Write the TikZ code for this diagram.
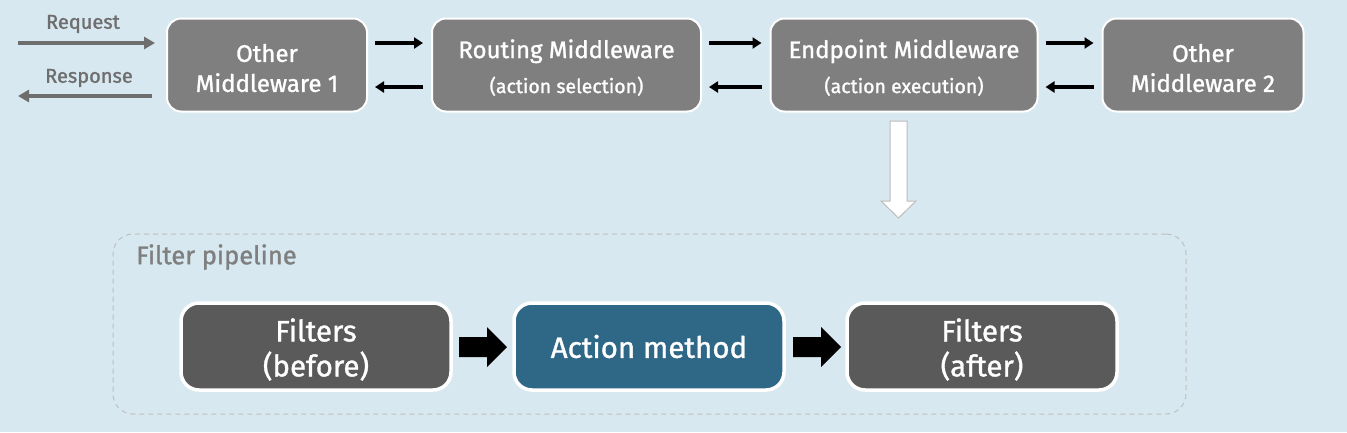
\documentclass[tikz,border=0pt]{standalone}
\usepackage{fontspec}
\setmainfont{Fira Sans}[FakeBold=1.2]
\usetikzlibrary{arrows.meta}
\definecolor{cBg}{HTML}{D7E8F0}
\definecolor{cTop}{HTML}{7F7F7F}
\definecolor{cBot}{HTML}{5A5A5A}
\definecolor{cAct}{HTML}{2F6786}
\definecolor{cTxt}{HTML}{6E6E6E}
\definecolor{cLbl}{HTML}{7F7F7F}
\definecolor{cDash}{HTML}{C0C0C0}
\definecolor{cOut}{HTML}{BDBDBD}
\newcommand{\tstrut}{\rule{0pt}{24pt}}
\newcommand{\bstrut}{\rule{0pt}{29pt}}
\begin{document}
\begin{tikzpicture}[x=1pt,y=-1pt,
  tbox/.style={draw=white, line width=2pt, fill=cTop, rounded corners=14pt,
    minimum height=93pt, text=white, align=center, inner sep=0pt,
    font=\fontsize{24}{30}\selectfont},
  bbox/.style={draw=white, line width=3.5pt, fill=cBot, rounded corners=18pt,
    minimum width=270pt, minimum height=87pt, text=white, align=center, inner sep=0pt,
    font=\fontsize{29.5}{35}\selectfont},
  blk/.style={line width=3.2pt, -{Triangle[length=9pt,width=11pt]}},
  gry/.style={draw=cTxt, line width=3.5pt, -{Triangle[length=11pt,width=12pt]}},
  glbl/.style={text=cTxt, font=\fontsize{20}{22}\selectfont, inner sep=0pt},
  blockarr/.style={fill=black},
  hollow/.style={fill=white, draw=cOut, line width=1pt},
]
\fill[cBg] (0,0) rectangle (1347,432);
\useasboundingbox (0,0) rectangle (1347,432);

% top row
\node[tbox, minimum width=200pt] (b1) at (267,65) {\tstrut Other\\Middleware 1};
\node[tbox, minimum width=269pt] (b2) at (566.5,65) {\tstrut Routing Middleware\\[5pt]{\fontsize{19.5}{22}\selectfont (action selection)}};
\node[tbox, minimum width=267pt] (b3) at (904,65) {\tstrut Endpoint Middleware\\[5pt]{\fontsize{19.5}{22}\selectfont (action execution)}};
\node[tbox, minimum width=201pt] (b4) at (1203,65) {\tstrut Other\\Middleware 2};

% request / response
\coordinate (reqs) at (18,43);
\coordinate (rese) at (18,96);
\draw[gry, shorten >=11pt] (reqs) -- ([yshift=22pt]b1.west);
\draw[gry, shorten <=14pt] ([yshift=-31pt]b1.west) -- (rese);
\node[glbl] (req) at (83,24) {Request};
\node[glbl] (res) at (89,78) {Response};

% black arrows between middlewares
\foreach \a/\b in {b1/b2, b2/b3, b3/b4}{
  \draw[blk, shorten <=7pt, shorten >=8pt] ([yshift=22pt]\a.east) -- ([yshift=22pt]\b.west);
  \draw[blk, shorten <=8pt, shorten >=7pt] ([yshift=-22pt]\b.west) -- ([yshift=-22pt]\a.east);
}

% hollow down arrow
\coordinate (da) at (898.5,121);
\draw[hollow] (da) ++(-8.5,0) -- ++(17,0) -- ++(0,80) -- ++(9,0) -- ++(-17.5,17) -- ++(-17.5,-17) -- ++(9,0) -- cycle;

% filter pipeline container
\node[draw=cDash, dash pattern=on 5pt off 4pt, line width=1pt, rounded corners=20pt,
  minimum width=1073pt, minimum height=180pt, inner sep=0pt] (fp) at (649.5,324) {};
\node[anchor=west, text=cLbl, font=\fontsize{25.5}{28}\selectfont, inner sep=0pt] (fpl) at (136,257) {Filter pipeline};

% bottom row
\node[bbox] (f1) at (316,346.5) {\bstrut Filters\\(before)};
\node[bbox, fill=cAct] (am) at (649,346.5) {Action method};
\node[bbox] (f2) at (982,346.5) {\bstrut Filters\\(after)};

% block arrows
\coordinate (a1) at (459,347);
\coordinate (a2) at (793,347);
\foreach \c in {a1,a2}{
  \fill[blockarr] (\c) ++(0,-10) -- ++(28,0) -- ++(0,-10) -- ++(20,20) -- ++(-20,20) -- ++(0,-10) -- ++(-28,0) -- cycle;
}
\end{tikzpicture}
\end{document}
